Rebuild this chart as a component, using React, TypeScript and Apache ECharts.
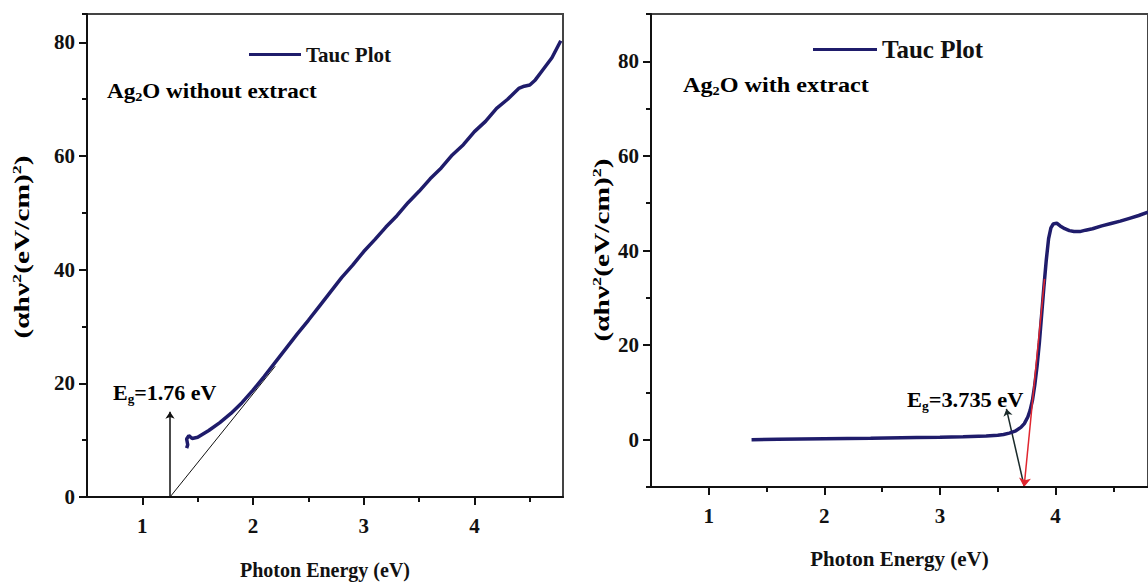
import React, { useEffect, useRef } from "react";
import * as echarts from "echarts";

// ---- Data ----
// Left panel: Ag2O without extract
const LEFT_X = [1.40, 1.41, 1.40, 1.42, 1.45, 1.50, 1.60, 1.70, 1.80, 1.90, 2.00, 2.10, 2.20, 2.30, 2.40, 2.50, 2.60, 2.70, 2.80, 2.90, 3.00, 3.10, 3.20, 3.30, 3.40, 3.50, 3.60, 3.70, 3.80, 3.90, 4.00, 4.10, 4.20, 4.30, 4.40, 4.45, 4.50, 4.55, 4.60, 4.70, 4.78];
const LEFT_Y = [8.6, 9.2, 10.2, 10.8, 10.3, 10.5, 11.7, 13.1, 14.7, 16.6, 18.8, 21.2, 23.7, 26.2, 28.7, 31.1, 33.6, 36.1, 38.6, 40.8, 43.2, 45.3, 47.5, 49.5, 51.8, 53.8, 56.0, 57.9, 60.2, 62.0, 64.3, 66.1, 68.4, 70.0, 71.9, 72.3, 72.5, 73.4, 74.7, 77.3, 80.3];
// Right panel: Ag2O with extract
const RIGHT_X = [1.37, 1.6, 2.0, 2.4, 2.8, 3.0, 3.2, 3.4, 3.5, 3.55, 3.6, 3.65, 3.7, 3.73, 3.76, 3.78, 3.80, 3.82, 3.84, 3.86, 3.88, 3.90, 3.92, 3.94, 3.96, 3.98, 4.01, 4.04, 4.08, 4.12, 4.16, 4.21, 4.26, 4.32, 4.40, 4.48, 4.56, 4.64, 4.72, 4.80];
const RIGHT_Y = [0.0, 0.1, 0.2, 0.3, 0.45, 0.5, 0.6, 0.8, 0.95, 1.1, 1.4, 1.8, 2.6, 3.4, 4.8, 6.2, 8.3, 11.5, 15.5, 20.5, 26.5, 32.5, 38.0, 42.5, 44.8, 45.6, 45.8, 45.2, 44.6, 44.2, 44.0, 44.0, 44.3, 44.6, 45.2, 45.7, 46.2, 46.8, 47.4, 48.1];

// Annotation lines (data coordinates)
const LEFT_TANGENT = [[1.25, 0], [2.2, 23.0]];
const LEFT_ARROW = [[1.25, 0], [1.25, 15]];
const RIGHT_TANGENT = [[3.905, 34], [3.728, -10]];
const RIGHT_ARROW = [[3.73, -10], [3.575, 6.5]];

// Axis ranges / ticks
const X_RANGE = [0.5, 4.8];
const X_STEP = 0.5;
const X_MAJOR = [1, 2, 3, 4];
const LEFT_Y_RANGE = [0, 85];
const RIGHT_Y_RANGE = [-10, 90];
const Y_STEP = 10;
const Y_MAJOR = [0, 20, 40, 60, 80];

const SERIES_NAME = "Tauc Plot";
const X_TITLE = "Photon Energy (eV)";
const LEFT_EG = "1.76 eV";
const RIGHT_EG = "3.735 eV";

const FONT = "Liberation Serif";
const NAVY = "#1f1c6b";
const RED = "#e0262f";
const AXIS = "#111";

const zip = (xs: number[], ys: number[]) => xs.map((x, i) => [x, ys[i]]);
const near = (v: number, list: number[]) => list.some((m) => Math.abs(m - v) < 1e-6);

function mainX(gridIndex: number) {
  return {
    type: "value",
    gridIndex,
    position: "bottom",
    min: X_RANGE[0],
    max: X_RANGE[1],
    interval: X_STEP,
    z: 10,
    axisLine: { show: true, onZero: false, lineStyle: { color: AXIS, width: 2 } },
    axisTick: { show: true, length: 5, lineStyle: { color: AXIS, width: 2 } },
    axisLabel: {
      formatter: (v: number) => (near(v, X_MAJOR) ? String(Math.round(v)) : ""),
      showMinLabel: false,
      showMaxLabel: false,
      margin: 18,
      fontSize: 21,
      fontWeight: "bold",
      fontFamily: FONT,
      color: "#111",
    },
    splitLine: { show: false },
    name: X_TITLE,
    nameLocation: "middle",
    nameGap: gridIndex === 0 ? 63 : 61,
    nameTextStyle: { fontSize: gridIndex === 0 ? 20 : 21, fontWeight: "bold", fontFamily: FONT, color: "#111" },
  };
}
function tickX(gridIndex: number) {
  return {
    type: "value",
    gridIndex,
    position: "bottom",
    min: X_RANGE[0],
    max: X_RANGE[1],
    z: 10,
    axisLine: { show: false, onZero: false },
    axisTick: { show: true, customValues: X_MAJOR, length: 8, lineStyle: { color: AXIS, width: 2 } },
    axisLabel: { show: false },
    splitLine: { show: false },
  };
}
function mainY(gridIndex: number, range: number[]) {
  return {
    type: "value",
    gridIndex,
    position: "left",
    min: range[0],
    max: range[1],
    interval: Y_STEP,
    z: 10,
    axisLine: { show: true, onZero: false, lineStyle: { color: AXIS, width: 2 } },
    axisTick: { show: true, length: 5, lineStyle: { color: AXIS, width: 2 } },
    axisLabel: {
      formatter: (v: number) => (near(v, Y_MAJOR) ? String(Math.round(v)) : ""),
      margin: 12,
      fontSize: 21,
      fontWeight: "bold",
      fontFamily: FONT,
      color: "#111",
    },
    splitLine: { show: false },
  };
}
function tickY(gridIndex: number, range: number[]) {
  return {
    type: "value",
    gridIndex,
    position: "left",
    min: range[0],
    max: range[1],
    z: 10,
    axisLine: { show: false, onZero: false },
    axisTick: { show: true, customValues: Y_MAJOR, length: 8, lineStyle: { color: AXIS, width: 2 } },
    axisLabel: { show: false },
    splitLine: { show: false },
  };
}

const richBase = (size: number, color: string) => ({
  a: { fontSize: size, fontWeight: "bold", fontFamily: FONT, color, lineHeight: size + 4 },
  s: { fontSize: Math.round(size * 0.6), fontWeight: "bold", fontFamily: FONT, color, lineHeight: Math.round(size * 0.7), verticalAlign: "bottom" },
  p: { fontSize: Math.round(size * 0.6), fontWeight: "bold", fontFamily: FONT, color, lineHeight: Math.round(size * 0.6), verticalAlign: "top" },
});

export default function App() {
  const ref = useRef<HTMLDivElement>(null);
  useEffect(() => {
    if (!ref.current) return;
    const chart = echarts.init(ref.current, null, { renderer: "svg" });
    const option: any = {
      animation: false,
      backgroundColor: "#fff",
      textStyle: { fontFamily: FONT, fontWeight: "bold" },
      grid: [
        { left: 87, top: 14, width: 476, height: 483, show: true, borderColor: "#444", borderWidth: 2 },
        { left: 651, top: 14, width: 504, height: 473, show: true, borderColor: "#444", borderWidth: 2 },
      ],
      xAxis: [mainX(0), tickX(0), mainX(1), tickX(1)],
      yAxis: [mainY(0, LEFT_Y_RANGE), tickY(0, LEFT_Y_RANGE), mainY(1, RIGHT_Y_RANGE), tickY(1, RIGHT_Y_RANGE)],
      legend: [
        {
          left: 244,
          top: 39,
          icon: "rect",
          itemWidth: 52,
          itemHeight: 3,
          data: [SERIES_NAME],
          selectedMode: false,
          textStyle: { fontSize: 21, fontWeight: "bold", fontFamily: FONT, color: "#111" },
        },
        {
          left: 808,
          top: 32,
          icon: "rect",
          itemWidth: 64,
          itemHeight: 3,
          data: [SERIES_NAME],
          selectedMode: false,
          textStyle: { fontSize: 25, fontWeight: "bold", fontFamily: FONT, color: "#111" },
        },
      ],
      series: [
        {
          name: SERIES_NAME,
          type: "line",
          xAxisIndex: 0,
          yAxisIndex: 0,
          data: zip(LEFT_X, LEFT_Y),
          showSymbol: false,
          lineStyle: { color: NAVY, width: 3.5 },
          itemStyle: { color: NAVY },
        },
        {
          type: "line",
          xAxisIndex: 0,
          yAxisIndex: 0,
          data: LEFT_TANGENT,
          showSymbol: false,
          lineStyle: { color: "#111", width: 1 },
          z: 1,
        },
        {
          type: "lines",
          coordinateSystem: "cartesian2d",
          xAxisIndex: 0,
          yAxisIndex: 0,
          data: [{ coords: LEFT_ARROW }],
          symbol: ["none", "arrow"],
          symbolSize: 7,
          lineStyle: { color: "#111", width: 1.5, opacity: 1 },
        },
        {
          name: SERIES_NAME,
          type: "line",
          xAxisIndex: 2,
          yAxisIndex: 2,
          data: zip(RIGHT_X, RIGHT_Y),
          showSymbol: false,
          lineStyle: { color: NAVY, width: 3.5 },
          itemStyle: { color: NAVY },
        },
        {
          type: "lines",
          coordinateSystem: "cartesian2d",
          xAxisIndex: 2,
          yAxisIndex: 2,
          data: [{ coords: RIGHT_TANGENT }],
          symbol: ["none", "arrow"],
          symbolSize: 9,
          lineStyle: { color: RED, width: 1.5, opacity: 1 },
          z: 5,
        },
        {
          type: "lines",
          coordinateSystem: "cartesian2d",
          xAxisIndex: 2,
          yAxisIndex: 2,
          data: [{ coords: RIGHT_ARROW }],
          symbol: ["none", "arrow"],
          symbolSize: 7,
          lineStyle: { color: "#1a2a2a", width: 1.5, opacity: 1 },
        },
      ],
      graphic: [
        {
          type: "text",
          x: 107,
          y: 91,
          scaleX: 1.1,
          style: {
            text: "{a|Ag}{s|2}{a|O without extract}",
            rich: richBase(21, "#111"),
            verticalAlign: "middle",
            align: "left",
          },
        },
        {
          type: "text",
          x: 683,
          y: 84,
          scaleX: 1.1,
          style: {
            text: "{a|Ag}{s|2}{a|O with extract}",
            rich: richBase(22, "#111"),
            verticalAlign: "middle",
            align: "left",
          },
        },
        {
          type: "text",
          x: 113,
          y: 393,
          scaleX: 1.1,
          style: {
            text: "{a|E}{s|g}{a|=" + LEFT_EG + "}",
            rich: richBase(20, RED),
            verticalAlign: "middle",
            align: "left",
          },
        },
        {
          type: "text",
          x: 907,
          y: 400,
          scaleX: 1.12,
          style: {
            text: "{a|E}{s|g}{a|=" + RIGHT_EG + "}",
            rich: richBase(20, RED),
            verticalAlign: "middle",
            align: "left",
          },
        },
        {
          type: "text",
          x: 22,
          y: 247,
          rotation: Math.PI / 2,
          scaleX: 1.4,
          style: {
            text: "{a|(αhν}{p|2}{a|(eV/cm)}{p|2}{a|)}",
            rich: richBase(21, "#111"),
            verticalAlign: "middle",
            align: "center",
          },
        },
        {
          type: "text",
          x: 602,
          y: 250,
          rotation: Math.PI / 2,
          scaleX: 1.4,
          style: {
            text: "{a|(αhν}{p|2}{a|(eV/cm)}{p|2}{a|)}",
            rich: richBase(21, "#111"),
            verticalAlign: "middle",
            align: "center",
          },
        },
      ],
    };
    chart.setOption(option);
    return () => chart.dispose();
  }, []);
  return (
    <div
      ref={ref}
      style={{ position: "fixed", left: 0, top: 0, width: 1148, height: 585, background: "#fff" }}
    />
  );
}
